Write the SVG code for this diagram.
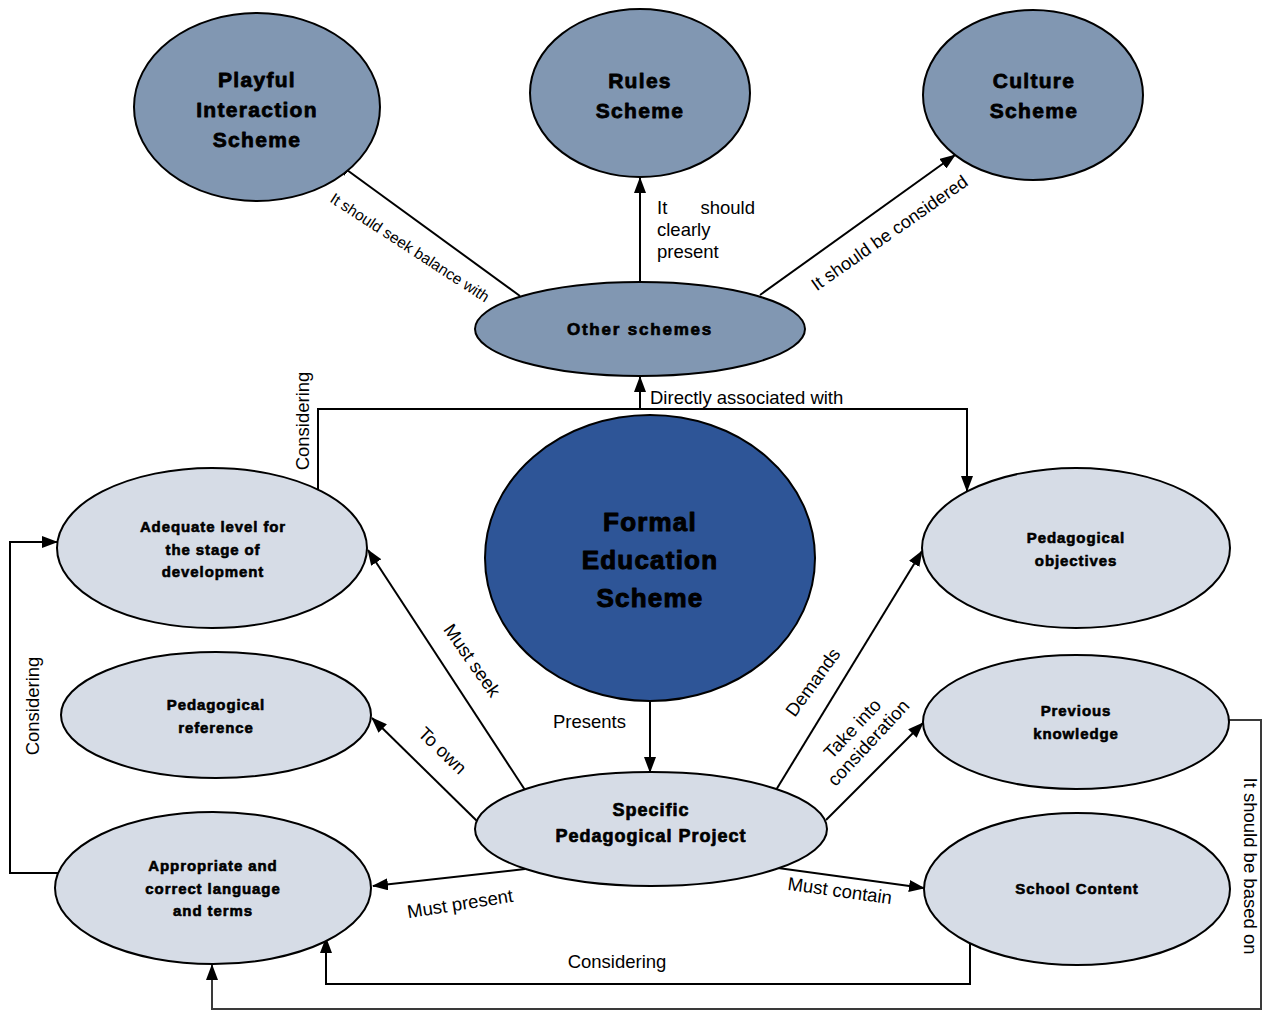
<svg xmlns="http://www.w3.org/2000/svg" width="1263" height="1011" viewBox="0 0 1263 1011">
  <style>
    .dark { fill: #8197b2; stroke: #000; stroke-width: 2; }
    .core { fill: #2e5597; stroke: #000; stroke-width: 2; }
    .light { fill: #d6dce6; stroke: #000; stroke-width: 2; }
    .nt { font-family: "Liberation Sans", Arial, sans-serif; font-weight: bold; text-anchor: middle; fill: #000; stroke: #000; stroke-linejoin: round; }
    .t-big { font-size: 21px; letter-spacing: 1.3px; stroke-width: 0.8px; }
    .t-core { font-size: 26px; letter-spacing: 1.2px; stroke-width: 1px; }
    .t-mid { font-size: 17px; letter-spacing: 1.8px; stroke-width: 0.7px; }
    .t-spp { font-size: 18px; letter-spacing: 1px; stroke-width: 0.7px; }
    .t-sm { font-size: 15px; letter-spacing: 0.9px; stroke-width: 0.6px; }
    .lbl { font-family: "Liberation Sans", Arial, sans-serif; font-size: 18.5px; fill: #000; }
    .lbl-c { font-family: "Liberation Sans", Arial, sans-serif; font-size: 18.5px; fill: #000; text-anchor: middle; }
    .lbl-s { font-size: 15.5px; }
    .lbl-m { font-size: 18px; }
    .edge-a { fill: none; stroke: #000; stroke-width: 2; marker-end: url(#arr); }
    .edge-g { fill: none; stroke: #3a3a3a; stroke-width: 2; marker-end: url(#arr); }
  </style>
  <defs>
    <marker id="arr" viewBox="0 0 16 12" refX="15" refY="6" markerWidth="16" markerHeight="12" orient="auto" markerUnits="userSpaceOnUse">
      <path d="M0,0 L16,6 L0,12 z" fill="#000"/>
    </marker>
  </defs>
  <rect width="1263" height="1011" fill="#fff"/>

  <g id="connectors">
    <!-- Other schemes fan-out -->
    <line class="edge-a" x1="520" y1="296" x2="336" y2="162"/>
    <line class="edge-a" x1="640" y1="282" x2="640" y2="178"/>
    <line class="edge-a" x1="760" y1="295" x2="955" y2="155"/>
    <!-- Formal Education Scheme to Other schemes -->
    <line class="edge-a" x1="640" y1="409" x2="640" y2="377"/>
    <!-- Adequate level to Pedagogical objectives over the top -->
    <path class="edge-a" d="M318,489 V409 H967 V491"/>
    <!-- Formal Education Scheme to Specific Pedagogical Project -->
    <line class="edge-a" x1="650" y1="702" x2="650" y2="772"/>
    <!-- Specific Pedagogical Project fan-out -->
    <line class="edge-a" x1="525" y1="790" x2="368" y2="550"/>
    <line class="edge-a" x1="478" y1="822" x2="372" y2="718"/>
    <line class="edge-a" x1="776" y1="790" x2="922" y2="551"/>
    <line class="edge-a" x1="826" y1="820" x2="923" y2="723"/>
    <line class="edge-a" x1="525" y1="869" x2="373" y2="886"/>
    <line class="edge-a" x1="778" y1="868" x2="924" y2="888"/>
    <!-- Appropriate language back to Adequate level -->
    <path class="edge-a" d="M58,873 H10 V542 H57"/>
    <!-- School Content to Appropriate language -->
    <path class="edge-a" d="M970,943 V984 H326 V938"/>
    <!-- Previous knowledge to Appropriate language -->
    <path class="edge-g" d="M1229,720 H1261 V1009 H212 V965"/>

    <!-- connector labels -->
    <text class="lbl-c lbl-s" transform="translate(407,252) rotate(33)">It should seek balance with</text>
    <text class="lbl" x="657" y="214">It</text>
    <text class="lbl" x="755" y="214" text-anchor="end">should</text>
    <text class="lbl" x="657" y="236">clearly</text>
    <text class="lbl" x="657" y="258">present</text>
    <text class="lbl-c lbl-m" transform="translate(893,238) rotate(-35)">It should be considered</text>
    <text class="lbl" x="650" y="404">Directly associated with</text>
    <text class="lbl-c" transform="translate(309,421) rotate(-90)">Considering</text>
    <text class="lbl" x="553" y="728">Presents</text>
    <text class="lbl-c" transform="translate(467,664) rotate(55)">Must seek</text>
    <text class="lbl-c" transform="translate(438,755) rotate(44)">To own</text>
    <text class="lbl-c" transform="translate(818,686) rotate(-54)">Demands</text>
    <text class="lbl-c" transform="translate(857,733) rotate(-47)">Take into</text>
    <text class="lbl-c" transform="translate(873,747) rotate(-47)">consideration</text>
    <text class="lbl-c" transform="translate(461,910) rotate(-9)">Must present</text>
    <text class="lbl-c" transform="translate(839,897) rotate(8)">Must contain</text>
    <text class="lbl-c" transform="translate(39,706) rotate(-90)">Considering</text>
    <text class="lbl-c" x="617" y="968">Considering</text>
    <text class="lbl-c" transform="translate(1244,866) rotate(90)">It should be based on</text>
  </g>

  <g id="playful">
    <ellipse class="dark" cx="257" cy="107" rx="123" ry="94"/>
    <text class="nt t-big" x="257" y="87">Playful</text>
    <text class="nt t-big" x="257" y="117">Interaction</text>
    <text class="nt t-big" x="257" y="147">Scheme</text>
  </g>
  <g id="rules">
    <ellipse class="dark" cx="640" cy="93" rx="110" ry="84"/>
    <text class="nt t-big" x="640" y="88">Rules</text>
    <text class="nt t-big" x="640" y="118">Scheme</text>
  </g>
  <g id="culture">
    <ellipse class="dark" cx="1033" cy="95" rx="110" ry="85"/>
    <text class="nt t-big" x="1034" y="88">Culture</text>
    <text class="nt t-big" x="1034" y="118">Scheme</text>
  </g>
  <g id="other-schemes">
    <ellipse class="dark" cx="640" cy="329" rx="165" ry="47"/>
    <text class="nt t-mid" x="640" y="335">Other schemes</text>
  </g>
  <g id="formal-education">
    <ellipse class="core" cx="650" cy="558" rx="165" ry="143"/>
    <text class="nt t-core" x="650" y="531">Formal</text>
    <text class="nt t-core" x="650" y="569">Education</text>
    <text class="nt t-core" x="650" y="607">Scheme</text>
  </g>
  <g id="adequate-level">
    <ellipse class="light" cx="212" cy="548" rx="155" ry="80"/>
    <text class="nt t-sm" x="213" y="532">Adequate level for</text>
    <text class="nt t-sm" x="213" y="555">the stage of</text>
    <text class="nt t-sm" x="213" y="577">development</text>
  </g>
  <g id="pedagogical-reference">
    <ellipse class="light" cx="216" cy="715" rx="155" ry="63"/>
    <text class="nt t-sm" x="216" y="710">Pedagogical</text>
    <text class="nt t-sm" x="216" y="733">reference</text>
  </g>
  <g id="appropriate-language">
    <ellipse class="light" cx="213" cy="888" rx="158" ry="76"/>
    <text class="nt t-sm" x="213" y="871">Appropriate and</text>
    <text class="nt t-sm" x="213" y="894">correct language</text>
    <text class="nt t-sm" x="213" y="916">and terms</text>
  </g>
  <g id="specific-project">
    <ellipse class="light" cx="651" cy="829" rx="176" ry="57"/>
    <text class="nt t-spp" x="651" y="816">Specific</text>
    <text class="nt t-spp" x="651" y="842">Pedagogical Project</text>
  </g>
  <g id="pedagogical-objectives">
    <ellipse class="light" cx="1076" cy="548" rx="154" ry="80"/>
    <text class="nt t-sm" x="1076" y="543">Pedagogical</text>
    <text class="nt t-sm" x="1076" y="566">objectives</text>
  </g>
  <g id="previous-knowledge">
    <ellipse class="light" cx="1076" cy="722" rx="153" ry="67"/>
    <text class="nt t-sm" x="1076" y="716">Previous</text>
    <text class="nt t-sm" x="1076" y="739">knowledge</text>
  </g>
  <g id="school-content">
    <ellipse class="light" cx="1077" cy="889" rx="153" ry="76"/>
    <text class="nt t-sm" x="1077" y="894">School Content</text>
  </g>
</svg>
